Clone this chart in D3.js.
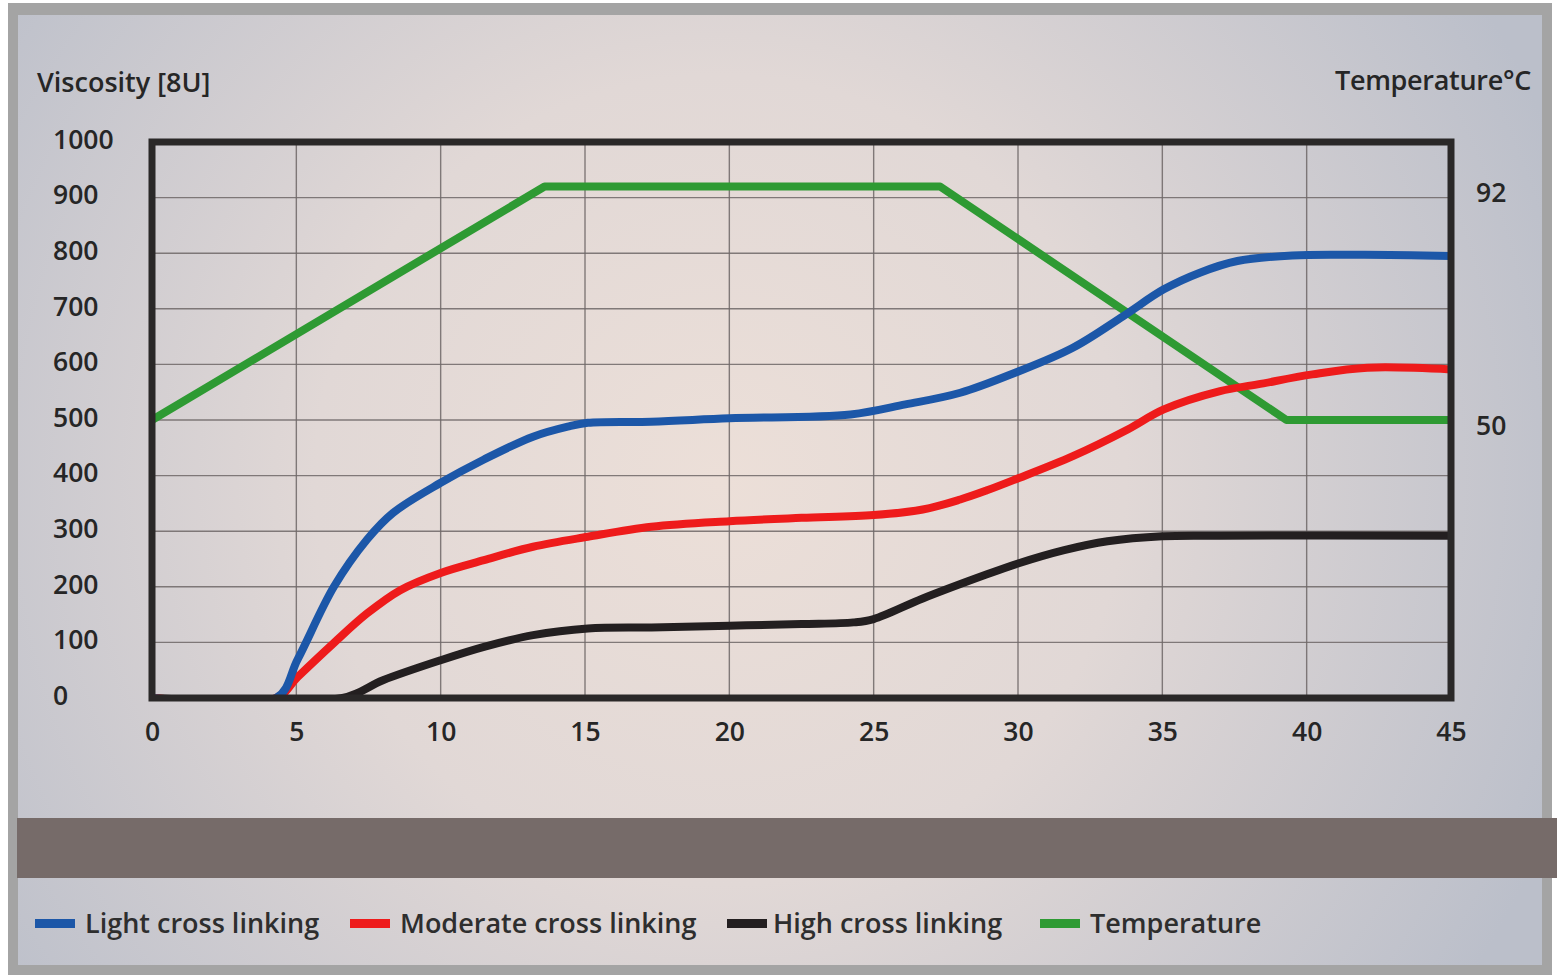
<!DOCTYPE html>
<html>
<head>
<meta charset="utf-8">
<script src="https://cdn.jsdelivr.net/npm/d3@7/dist/d3.min.js"></script>
<style>
  html, body { margin: 0; padding: 0; background: #ffffff; }
  svg { display: block; }
  text { font-family: "Open Sans", "Noto Sans", sans-serif; }
</style>
</head>
<body>
<svg id="chart" width="1557" height="980"></svg>
<script>
// ---------- data ----------
const xTicks = [0, 5, 10, 15, 20, 25, 30, 35, 40, 45];
const yTicks = [0, 100, 200, 300, 400, 500, 600, 700, 800, 900, 1000];
const tempTicks = [50, 92];

const lightTime = [0, 4.3, 5.05, 6.3, 7.45, 8.35, 10, 11.5, 13.2, 14.4, 15.1, 17.3, 20, 24.2, 26.1, 28, 29.9, 31.9, 33.65, 35.05, 36.3, 37.6, 39.5, 42, 45];
const lightVisc = [0, 0, 70, 200, 285, 333, 387, 429, 470, 488, 495, 497, 503, 510, 528, 549, 585, 630, 687, 735, 765, 786, 796, 797, 795];

const moderateTime = [0, 4.3, 5.05, 6.3, 7.45, 8.6, 10, 11.5, 13.2, 15.1, 17.3, 20, 22.5, 25, 26.7, 28, 28.9, 29.9, 31.9, 33.8, 35.05, 37, 38.3, 40.2, 42.1, 45];
const moderateVisc = [0, 0, 38, 99, 152, 194, 225, 248, 272, 290, 308, 318, 324, 329, 339, 357, 373, 393, 435, 483, 519, 552, 564, 582, 594, 591];

const highTime = [0, 6.6, 8, 10, 11.5, 13.2, 15.1, 17.3, 20, 22.5, 24.3, 25, 26.7, 28.9, 30, 31.6, 33.1, 35, 37, 45];
const highVisc = [0, 0, 32, 68, 92, 113, 125, 127, 130, 133, 136, 142, 179, 222, 242, 266, 282, 291, 292, 292];

const tempTime = [0, 13.6, 27.3, 39.3, 45];
const tempValue = [50, 92, 92, 50, 50];

const seriesNames = ["Light cross linking", "Moderate cross linking", "High cross linking", "Temperature"];
const seriesColors = ["#1c57a8", "#ee1b1b", "#231f20", "#2e9a33"];

// ---------- layout ----------
const svg = d3.select("#chart");
const W = 1557, H = 980;
const x = d3.scaleLinear().domain([0, 45]).range([152, 1451]);
const y = d3.scaleLinear().domain([0, 1000]).range([698, 142]);
const yT = d3.scaleLinear().domain([0, 100]).range([698, 142]);

const defs = svg.append("defs");
const bg = defs.append("radialGradient").attr("id", "bg")
  .attr("gradientUnits", "userSpaceOnUse")
  .attr("cx", 720).attr("cy", 480).attr("r", 900);
bg.append("stop").attr("offset", "0").attr("stop-color", "#ecdfd8");
bg.append("stop").attr("offset", "0.45").attr("stop-color", "#e1d8d6");
bg.append("stop").attr("offset", "1").attr("stop-color", "#bbbfca");
const clip = defs.append("clipPath").attr("id", "plotclip");
clip.append("rect").attr("x", x(0)).attr("y", y(1000)).attr("width", x(45) - x(0)).attr("height", y(0) - y(1000));

// outer border & panel
svg.append("rect").attr("x", 8).attr("y", 3).attr("width", 1544).attr("height", 972).attr("fill", "#a4a4a4");
svg.append("rect").attr("x", 18).attr("y", 15).attr("width", 1524).attr("height", 950).attr("fill", "url(#bg)");

// dark band
svg.append("rect").attr("x", 17).attr("y", 818).attr("width", W - 17).attr("height", 60).attr("fill", "#766b69");

// grid
const grid = svg.append("g");
grid.selectAll("line.v").data(xTicks.filter(d => d > 0 && d < 45)).join("line")
  .attr("x1", d => x(d)).attr("x2", d => x(d)).attr("y1", y(1000)).attr("y2", y(0))
  .attr("stroke", "#6f6868").attr("stroke-width", 1.4).attr("opacity", 0.85);
grid.selectAll("line.h").data(yTicks.filter(d => d > 0 && d < 1000)).join("line")
  .attr("x1", x(0)).attr("x2", x(45)).attr("y1", d => y(d)).attr("y2", d => y(d))
  .attr("stroke", "#6f6868").attr("stroke-width", 1.4).attr("opacity", 0.85);

// lines
const curveLine = d3.line().x(d => x(d[0])).y(d => y(d[1])).curve(d3.curveCatmullRom.alpha(0.5));
const tempLine = d3.line().x(d => x(d[0])).y(d => yT(d[1])).curve(d3.curveLinear);

const zip = (a, b) => a.map((v, i) => [v, b[i]]);
const plot = svg.append("g").attr("clip-path", "url(#plotclip)")
  .attr("fill", "none").attr("stroke-width", 8).attr("stroke-linejoin", "round");
plot.append("path").attr("d", tempLine(zip(tempTime, tempValue))).attr("stroke", seriesColors[3]);
plot.append("path").attr("d", curveLine(zip(highTime, highVisc))).attr("stroke", seriesColors[2]);
plot.append("path").attr("d", curveLine(zip(moderateTime, moderateVisc))).attr("stroke", seriesColors[1]);
plot.append("path").attr("d", curveLine(zip(lightTime, lightVisc))).attr("stroke", seriesColors[0]);

// frame
svg.append("rect").attr("x", x(0)).attr("y", y(1000)).attr("width", x(45) - x(0)).attr("height", y(0) - y(1000))
  .attr("fill", "none").attr("stroke", "#2a2828").attr("stroke-width", 7);

// axes
const fontSize = 26.5;
const xAxis = svg.append("g").attr("transform", `translate(0,${y(0)})`)
  .call(d3.axisBottom(x).tickValues(xTicks).tickSize(0).tickPadding(24).tickFormat(d3.format("d")));
const yAxis = svg.append("g").attr("transform", "translate(53,0)")
  .call(d3.axisLeft(y).tickValues(yTicks).tickSize(0).tickPadding(0).tickFormat(d3.format("d")));
yAxis.selectAll("text").attr("text-anchor", "start").attr("x", 0).attr("dy", "0.24em");
const rAxis = svg.append("g").attr("transform", "translate(1476,0)")
  .call(d3.axisRight(yT).tickValues(tempTicks).tickSize(0).tickPadding(0).tickFormat(d3.format("d")));
rAxis.selectAll("text").attr("dy", "0.55em");
[xAxis, yAxis, rAxis].forEach(g => {
  g.select(".domain").remove();
  g.selectAll("text").attr("font-size", fontSize).attr("font-weight", 600).attr("fill", "#262626")
    .style("font-family", "'Open Sans', sans-serif");
});

// axis titles
svg.append("text").attr("x", 37).attr("y", 92).attr("font-size", 27).attr("font-weight", 600)
  .attr("fill", "#262626").text("Viscosity [8U]");
svg.append("text").attr("x", 1531).attr("y", 90).attr("text-anchor", "end").attr("font-size", 27).attr("font-weight", 600)
  .attr("fill", "#262626").attr("letter-spacing", -0.3).text("Temperature°C");

// legend
const legendX = [35, 350, 727, 1040];
const lg = svg.append("g");
seriesNames.forEach((name, i) => {
  lg.append("rect").attr("x", legendX[i]).attr("y", 919).attr("width", 40).attr("height", 9).attr("fill", seriesColors[i]);
  lg.append("text").attr("x", legendX[i] + (i === 2 ? 46 : 50)).attr("y", 933).attr("font-size", 27).attr("font-weight", 600)
    .attr("fill", "#2e2e2e").text(name);
});
</script>
</body>
</html>
